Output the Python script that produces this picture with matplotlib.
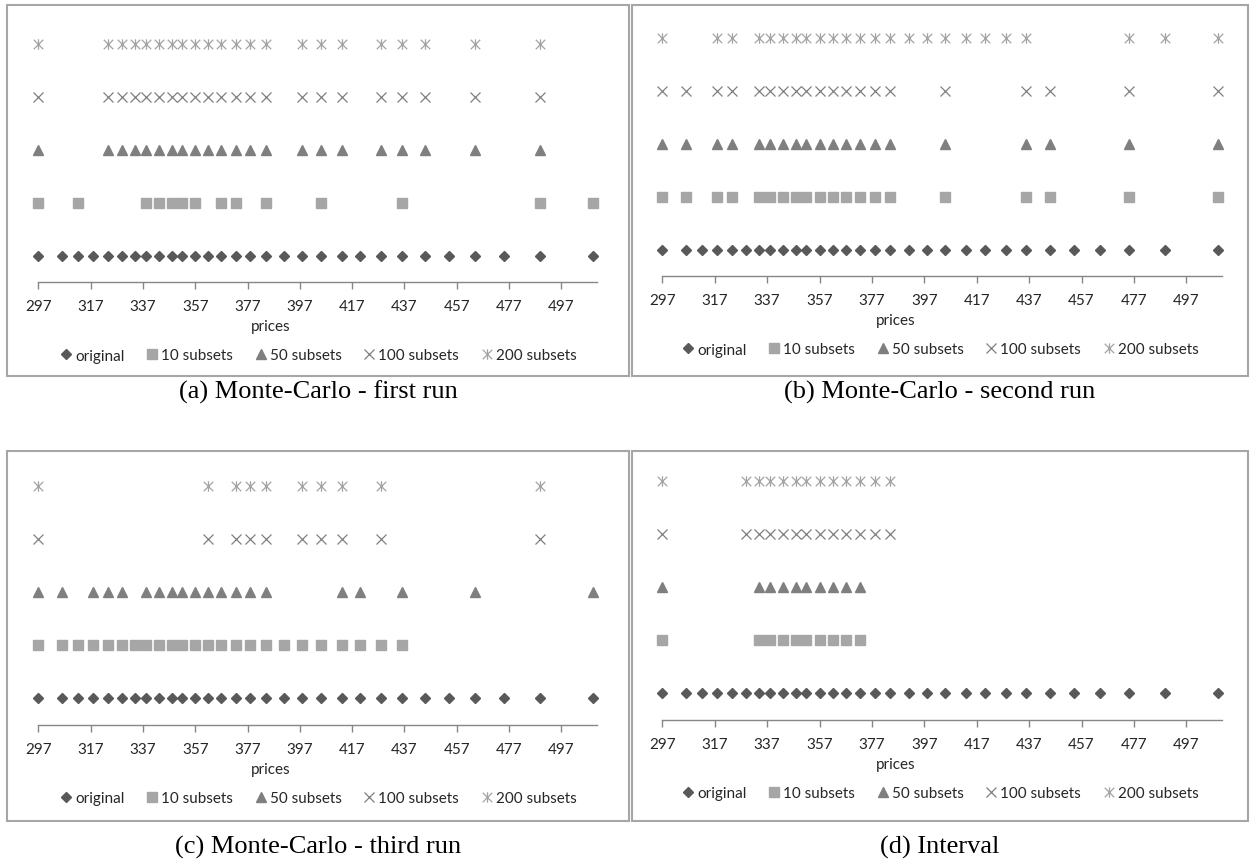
import matplotlib
matplotlib.use("Agg")
import matplotlib.pyplot as plt
from matplotlib.path import Path
from matplotlib.patches import Rectangle

W, H = 1251, 862

# prices of the original data set
original = [297, 306, 312, 318, 323.5, 329, 334, 338, 343, 348, 352, 357, 362,
            367, 372.5, 378, 384, 391, 398, 405, 413, 420, 428, 436, 445, 454,
            464, 475, 489, 509]

series_names = ["original", "10 subsets", "50 subsets", "100 subsets", "200 subsets"]
tick_values = list(range(297, 498, 20))

# (a) Monte-Carlo - first run
a_10 = [297, 312, 338, 343, 348, 352, 357, 367, 372.5, 384, 405, 436, 489, 509]
a_50 = [297, 323.5, 329, 334, 338, 343, 348, 352, 357, 362, 367, 372.5, 378, 384,
        398, 405, 413, 428, 436, 445, 464, 489]
a_100 = [297, 323.5, 329, 334, 338, 343, 348, 352, 357, 362, 367, 372.5, 378, 384,
         398, 405, 413, 428, 436, 445, 464, 489]
a_200 = [297, 323.5, 329, 334, 338, 343, 348, 352, 357, 362, 367, 372.5, 378, 384,
         398, 405, 413, 428, 436, 445, 464, 489]

# (b) Monte-Carlo - second run
b_10 = [297, 306, 318, 323.5, 334, 338, 343, 348, 352, 357, 362, 367, 372.5, 378,
        384, 405, 436, 445, 475, 509]
b_50 = [297, 306, 318, 323.5, 334, 338, 343, 348, 352, 357, 362, 367, 372.5, 378,
        384, 405, 436, 445, 475, 509]
b_100 = [297, 306, 318, 323.5, 334, 338, 343, 348, 352, 357, 362, 367, 372.5, 378,
         384, 405, 436, 445, 475, 509]
b_200 = [297, 318, 323.5, 334, 338, 343, 348, 352, 357, 362, 367, 372.5, 378, 384,
         391, 398, 405, 413, 420, 428, 436, 475, 489, 509]

# (c) Monte-Carlo - third run
c_10 = [297, 306, 312, 318, 323.5, 329, 334, 338, 343, 348, 352, 357, 362, 367,
        372.5, 378, 384, 391, 398, 405, 413, 420, 428, 436]
c_50 = [297, 306, 318, 323.5, 329, 338, 343, 348, 352, 357, 362, 367, 372.5, 378,
        384, 413, 420, 436, 464, 509]
c_100 = [297, 362, 372.5, 378, 384, 398, 405, 413, 428, 489]
c_200 = [297, 362, 372.5, 378, 384, 398, 405, 413, 428, 489]

# (d) Interval
d_10 = [297, 334, 338, 343, 348, 352, 357, 362, 367, 372.5]
d_50 = [297, 334, 338, 343, 348, 352, 357, 362, 367, 372.5]
d_100 = [297, 329, 334, 338, 343, 348, 352, 357, 362, 367, 372.5, 378, 384]
d_200 = [297, 329, 334, 338, 343, 348, 352, 357, 362, 367, 372.5, 378, 384]

captions = ["(a) Monte-Carlo - first run", "(b) Monte-Carlo - second run",
            "(c) Monte-Carlo - third run", "(d) Interval"]

panel_data = [
    [original, a_10, a_50, a_100, a_200],
    [original, b_10, b_50, b_100, b_200],
    [original, c_10, c_50, c_100, c_200],
    [original, d_10, d_50, d_100, d_200],
]

# pixel layout: border box (x0, y0, x1, y1), axes left/right, axis line y
layout = [
    dict(box=(7, 6, 629, 377), left=38.3, right=596.7, axis=283, cap=392),
    dict(box=(632, 6, 1248, 377), left=662.3, right=1221.7, axis=277, cap=392),
    dict(box=(7, 452, 629, 822), left=38.3, right=596.7, axis=725.7, cap=847),
    dict(box=(632, 452, 1248, 822), left=662.3, right=1221.7, axis=720.7, cap=847),
]
ROW_PX = 53

# excel style "star" marker: an x with a vertical stroke
star = Path([(-1, -1), (1, 1), (-1, 1), (1, -1), (0, -1.1), (0, 1.1)],
            [Path.MOVETO, Path.LINETO] * 3)

styles = [
    dict(marker='D', ms=4.9, color='#595959'),
    dict(marker='s', ms=7.2, color='#a6a6a6'),
    dict(marker='^', ms=7.5, color='#7f7f7f'),
    dict(marker='x', ms=7, color='#7f7f7f', mew=0.9),
    dict(marker=star, ms=7.5, color='#a3a3a3', mew=0.9, mfc='none'),
]

FONT = "Lato"
TXT = '#262626'
AXC = '#868686'
FS = 11


def fx(px):
    return px / W


def fy(px):
    return 1 - px / H


def make_figure():
    fig = plt.figure(figsize=(W / 100, H / 100), dpi=100)
    fig.patch.set_facecolor('white')

    for k, lay in enumerate(layout):
        ax = fig.add_axes([fx(lay['left']), fy(lay['axis']),
                           (lay['right'] - lay['left']) / W, ROW_PX * 5 / H])

        for row, (xs, name, st) in enumerate(zip(panel_data[k], series_names, styles)):
            ax.plot(xs, [row + 1] * len(xs), linestyle='none', label=name,
                    clip_on=False, **st)

        ax.set_xlim(297, 510.5)
        ax.set_ylim(0.5, 5.5)
        ax.set_xticks(tick_values)
        ax.set_yticks([])
        for s in ['top', 'left', 'right']:
            ax.spines[s].set_visible(False)
        ax.spines['bottom'].set_color(AXC)
        ax.spines['bottom'].set_linewidth(1.0)
        ax.tick_params(axis='x', direction='out', length=5, width=1, color=AXC,
                       labelcolor=TXT, labelsize=FS, pad=7.5)
        for lab in ax.get_xticklabels():
            lab.set_fontfamily(FONT)
        ax.patch.set_alpha(0)

        # axis title, sits left of centre like the original
        px_x = lay['left'] + (386 - 297) * (lay['right'] - lay['left']) / 213.5
        fig.text(fx(px_x), fy(lay['axis'] + 44), 'prices', ha='center',
                 va='center', fontsize=FS, family=FONT, color=TXT)

        cx = (lay['box'][0] + lay['box'][2]) / 2
        ax.legend(loc='center', bbox_to_anchor=(fx(cx), fy(lay['axis'] + 73.5)),
                  bbox_transform=fig.transFigure, ncol=5, frameon=False,
                  handlelength=0.9, handletextpad=0.15, columnspacing=1.35,
                  numpoints=1, prop=dict(family=FONT, size=FS),
                  labelcolor=TXT, borderpad=0)

        x0, y0, x1, y1 = lay['box']
        fig.add_artist(Rectangle((fx(x0), fy(y1)), (x1 - x0) / W, (y1 - y0) / H,
                                 transform=fig.transFigure, fill=False,
                                 edgecolor='#a6a6a6', linewidth=1.5))

        fig.text(fx(cx), fy(lay['cap']), captions[k], ha='center', va='center',
                 fontsize=19, family='Liberation Serif', color='black')

    fig.savefig('out.png', dpi=100, facecolor='white')
    plt.close(fig)


if __name__ == "__main__":
    make_figure()
